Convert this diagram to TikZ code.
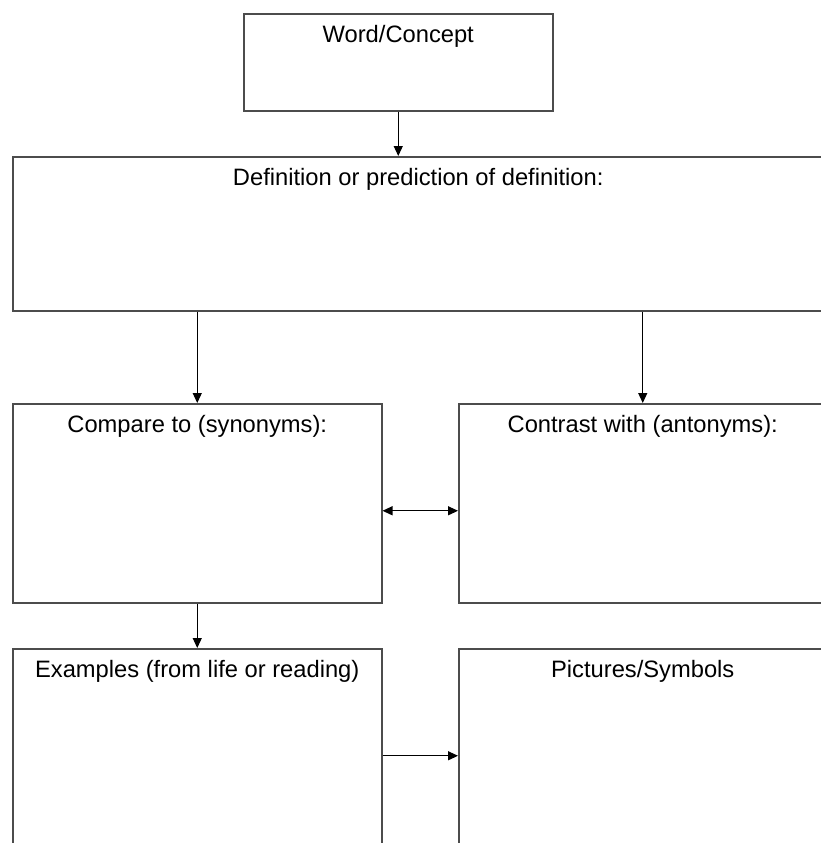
\documentclass[tikz,border=0pt]{standalone}
\usepackage{fontspec}
\setmainfont{Liberation Sans}
\usetikzlibrary{arrows.meta, positioning}

\begin{document}
\begin{tikzpicture}[
    x=0.02cm, y=-0.02cm,
    box/.style  = {draw=black!70, line width=0.9pt, anchor=north west,
                   inner xsep=0pt, inner ysep=0.21cm, text height=0.36cm,
                   font=\fontsize{13.5}{16}\selectfont},
    arr/.style  = {-{Triangle[length=0.2cm, width=0.18cm]}, line width=0.7pt},
    darr/.style = {{Triangle[length=0.2cm, width=0.18cm]}-{Triangle[length=0.2cm, width=0.18cm]},
                   line width=0.7pt},
]
\useasboundingbox (0,0) rectangle (821,843);
\clip (0,0) rectangle (821,843);

%% -- Boxes ------------------------------------------------------------------
\node[box, minimum width=6.18cm, text depth=1.16cm] (word) at (243,13) {Word/Concept};
\node[box, minimum width=16.22cm, text depth=2.30cm] (defn) at (12,156) {Definition or prediction of definition:};
\node[box, minimum width=7.38cm, text depth=3.20cm] (compare) at (12,403) {Compare to (synonyms):};
\node[box, minimum width=7.36cm, text depth=3.20cm] (contrast) at (458,403) {Contrast with (antonyms):};
\node[box, minimum width=7.38cm, text depth=3.26cm] (examples) at (12,648) {Examples (from life or reading)};
\node[box, minimum width=7.36cm, text depth=3.26cm] (pictures) at (458,648) {Pictures/Symbols};

%% -- Arrows -----------------------------------------------------------------
\draw[arr] (word.south) -- (word.south |- defn.north);
\draw[arr] (compare.north |- defn.south) -- (compare.north);
\draw[arr] (contrast.north |- defn.south) -- (contrast.north);
\draw[darr] ([yshift=-0.15cm]compare.east) -- ([yshift=-0.15cm]contrast.west);
\draw[arr] (compare.south) -- (examples.north);
\draw[arr] ([yshift=-0.12cm]examples.east) -- ([yshift=-0.12cm]pictures.west);

\end{tikzpicture}
\end{document}
